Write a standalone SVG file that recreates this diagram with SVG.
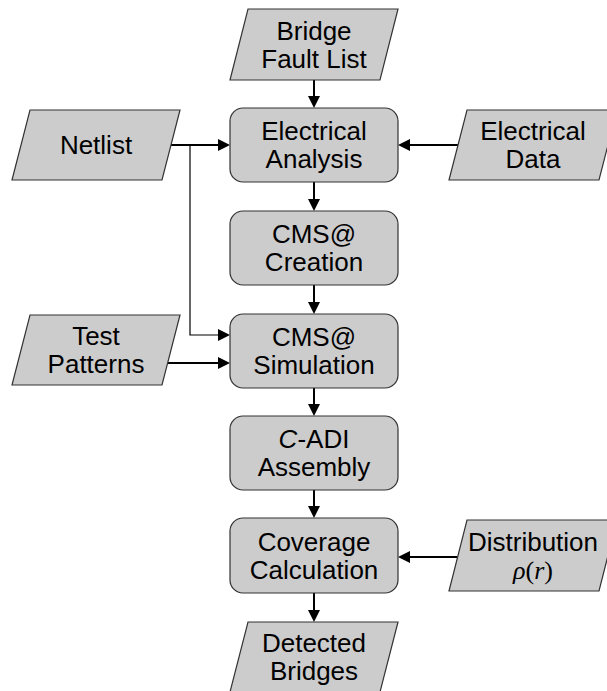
<svg xmlns="http://www.w3.org/2000/svg" width="607" height="691" viewBox="0 0 607 691">
<defs>
<style>
.box{fill:#cccccc;stroke:#333333;stroke-width:1.2}
.io{fill:#cccccc;stroke:#333333;stroke-width:1.2}
.t{font-family:"Liberation Sans",Arial,sans-serif;font-size:26px;fill:#000000;text-anchor:middle}
.m{font-family:"Liberation Serif","Times New Roman",serif;font-size:26px;fill:#000000;text-anchor:middle}
.c{fill:none;stroke:#000000;stroke-width:2}
.thin{fill:none;stroke:#000000;stroke-width:1.2}
</style>
<marker id="ah" markerUnits="userSpaceOnUse" markerWidth="12" markerHeight="12" refX="8" refY="6" orient="auto">
<path d="M0,0 L12,6 L0,12 Z" fill="#000000"/>
</marker>
</defs>
<rect width="607" height="691" fill="#ffffff"/>
<g id="connectors">
<path class="c" d="M314,80 V104" marker-end="url(#ah)"/>
<path class="c" d="M171,145 H226" marker-end="url(#ah)"/>
<path class="thin" d="M190,145 V335 H226" marker-end="url(#ah)"/>
<path class="c" d="M458,145 H402" marker-end="url(#ah)"/>
<path class="c" d="M314,182 V207" marker-end="url(#ah)"/>
<path class="c" d="M314,285 V310" marker-end="url(#ah)"/>
<path class="c" d="M168,363 H226" marker-end="url(#ah)"/>
<path class="c" d="M314,388 V412" marker-end="url(#ah)"/>
<path class="c" d="M314,490 V514" marker-end="url(#ah)"/>
<path class="c" d="M457,557 H402" marker-end="url(#ah)"/>
<path class="c" d="M314,593 V618" marker-end="url(#ah)"/>
</g>
<g id="bridge-fault-list">
<polygon class="io" points="248,9 398,9 380,80 230,80"/>
<text class="t" x="314" y="39.5">Bridge</text>
<text class="t" x="314" y="67.5">Fault List</text>
</g>
<g id="netlist">
<polygon class="io" points="30,110 180,110 162,180 12,180"/>
<text class="t" x="96" y="154">Netlist</text>
</g>
<g id="electrical-analysis">
<rect class="box" x="230" y="108" width="168" height="74" rx="13" ry="13"/>
<text class="t" x="314" y="140">Electrical</text>
<text class="t" x="314" y="168">Analysis</text>
</g>
<g id="electrical-data">
<polygon class="io" points="467,110 617,110 599,180 449,180"/>
<text class="t" x="533" y="140">Electrical</text>
<text class="t" x="533" y="168">Data</text>
</g>
<g id="cms-creation">
<rect class="box" x="230" y="211" width="168" height="74" rx="13" ry="13"/>
<text class="t" x="314" y="243">CMS@</text>
<text class="t" x="314" y="271">Creation</text>
</g>
<g id="test-patterns">
<polygon class="io" points="30,315 180,315 162,385 12,385"/>
<text class="t" x="96" y="345">Test</text>
<text class="t" x="96" y="373">Patterns</text>
</g>
<g id="cms-simulation">
<rect class="box" x="230" y="314" width="168" height="74" rx="13" ry="13"/>
<text class="t" x="314" y="346">CMS@</text>
<text class="t" x="314" y="374">Simulation</text>
</g>
<g id="c-adi-assembly">
<rect class="box" x="230" y="416" width="168" height="74" rx="13" ry="13"/>
<text class="t" x="314" y="448"><tspan font-style="italic">C</tspan>-ADI</text>
<text class="t" x="314" y="476">Assembly</text>
</g>
<g id="coverage-calculation">
<rect class="box" x="230" y="518" width="168" height="75" rx="13" ry="13"/>
<text class="t" x="314" y="550.5">Coverage</text>
<text class="t" x="314" y="578.5">Calculation</text>
</g>
<g id="distribution">
<polygon class="io" points="467,520 617,520 599,591 449,591"/>
<text class="t" x="533" y="550.5">Distribution</text>
<text class="m" x="533" y="578.5"><tspan font-style="italic">ρ</tspan>(<tspan font-style="italic">r</tspan>)</text>
</g>
<g id="detected-bridges">
<polygon class="io" points="248,622 398,622 380,692 230,692"/>
<text class="t" x="314" y="652">Detected</text>
<text class="t" x="314" y="680">Bridges</text>
</g>
</svg>
